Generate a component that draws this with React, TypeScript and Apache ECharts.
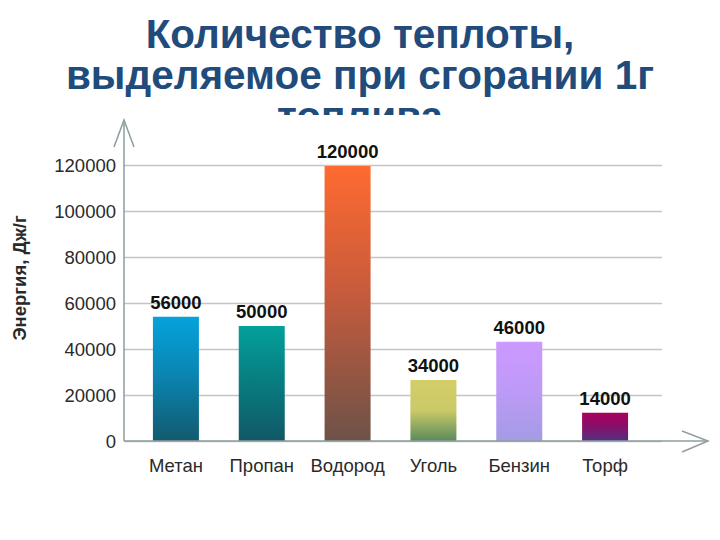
import React, { useEffect, useRef } from "react";
import * as echarts from "echarts";

const titleLines = ["Количество теплоты,", "выделяемое при сгорании 1г", "топлива"];
const categories = ["Метан", "Пропан", "Водород", "Уголь", "Бензин", "Торф"];
// heights of the bars as drawn in the picture
const barHeights = [54000, 50000, 119600, 26500, 43200, 12300];
// values printed above the bars
const labelValues = [56000, 50000, 120000, 34000, 46000, 14000];
const yTicks = [0, 20000, 40000, 60000, 80000, 100000, 120000];
const yAxisTitle = "Энергия, Дж/г";
const barGradients = [
  ["#05a2dc", "#0a86b4", "#125a6e"],
  ["#03a09a", "#077f82", "#105866"],
  ["#ff6a30", "#c85b3c", "#6d5248"],
  ["#d3ce6a", "#c9ca67", "#5b8a5c"],
  ["#cd99ff", "#bf9af8", "#a59be4"],
  ["#ab005c", "#8a0e68", "#52317f"],
];

export default function App() {
  const ref = useRef<HTMLDivElement>(null);
  useEffect(() => {
    if (!ref.current) return;
    const chart = echarts.init(ref.current, null, { renderer: "svg" });
    const axisColor = "#8e9e9e";
    const font = "Liberation Sans, Arial, sans-serif";
    chart.setOption({
      animation: false,
      backgroundColor: "#ffffff",
      title: {
        text: titleLines.join("\n"),
        left: "center",
        top: 8,
        z: 1,
        textStyle: {
          fontFamily: font,
          fontSize: 40.5,
          fontWeight: "bold",
          lineHeight: 41,
          color: "#214b7b",
        },
      },
      grid: [
        { left: 124, right: 58, top: 165, bottom: 99 },
        { left: 133, right: 72, top: 165, bottom: 99 },
      ],
      xAxis: [
        { type: "category", gridIndex: 0, data: categories, show: false },
        {
          type: "category",
          gridIndex: 1,
          data: categories,
          axisLine: { show: false },
          axisTick: { show: false },
          axisLabel: {
            interval: 0,
            margin: 15,
            fontSize: 18.5,
            color: "#2a2a2a",
            fontFamily: font,
          },
        },
      ],
      yAxis: [
        {
          type: "value",
          gridIndex: 0,
          min: yTicks[0],
          max: yTicks[yTicks.length - 1],
          interval: yTicks[1] - yTicks[0],
          axisLine: { show: false },
          axisTick: { show: false },
          axisLabel: {
            margin: 8,
            fontSize: 18.5,
            color: "#2a2a2a",
            fontFamily: font,
            formatter: (v: number) => String(v),
          },
          splitLine: { lineStyle: { color: "#c4c4c4", width: 1.3 } },
        },
        {
          type: "value",
          gridIndex: 1,
          min: yTicks[0],
          max: yTicks[yTicks.length - 1],
          interval: yTicks[1] - yTicks[0],
          show: false,
          splitLine: { show: false },
        },
      ],
      series: [
        {
          type: "bar",
          xAxisIndex: 1,
          yAxisIndex: 1,
          barWidth: 46,
          z: 3,
          data: barHeights.map((v, i) => ({
            value: v,
            itemStyle: {
              color: new echarts.graphic.LinearGradient(0, 0, 0, 1, [
                { offset: 0, color: barGradients[i][0] },
                { offset: i === 3 ? 0.5 : 0.45, color: barGradients[i][1] },
                { offset: 1, color: barGradients[i][2] },
              ]),
            },
          })),
          label: {
            show: true,
            position: "top",
            distance: 5,
            formatter: (p: any) => String(labelValues[p.dataIndex]),
            fontSize: 18.5,
            fontWeight: "bold",
            color: "#111111",
            fontFamily: font,
          },
        },
      ],
      graphic: [
        {
          type: "rect",
          z: 5,
          shape: { x: 0, y: 115, width: 720, height: 28 },
          style: { fill: "#ffffff" },
        },
        {
          type: "line",
          z: 10,
          shape: { x1: 124, y1: 441, x2: 124, y2: 121 },
          style: { stroke: axisColor, lineWidth: 1.5 },
        },
        {
          type: "polyline",
          z: 10,
          shape: { points: [[114, 147], [124, 120], [134, 147]] },
          style: { stroke: axisColor, lineWidth: 1.5, fill: "none" },
        },
        {
          type: "line",
          z: 10,
          shape: { x1: 124, y1: 441, x2: 707, y2: 441 },
          style: { stroke: axisColor, lineWidth: 1.5 },
        },
        {
          type: "polyline",
          z: 10,
          shape: { points: [[682, 431], [708, 441], [682, 452]] },
          style: { stroke: axisColor, lineWidth: 1.5, fill: "none" },
        },
        {
          type: "text",
          z: 10,
          x: 19,
          y: 278,
          rotation: Math.PI / 2,
          style: {
            text: yAxisTitle,
            fontSize: 18.5,
            fontWeight: "bold",
            fill: "#2a2a2a",
            align: "center",
            verticalAlign: "middle",
            fontFamily: font,
          },
        },
      ],
    });
    return () => chart.dispose();
  }, []);
  return <div ref={ref} style={{ width: 720, height: 540, position: "absolute", left: 0, top: 0 }} />;
}
